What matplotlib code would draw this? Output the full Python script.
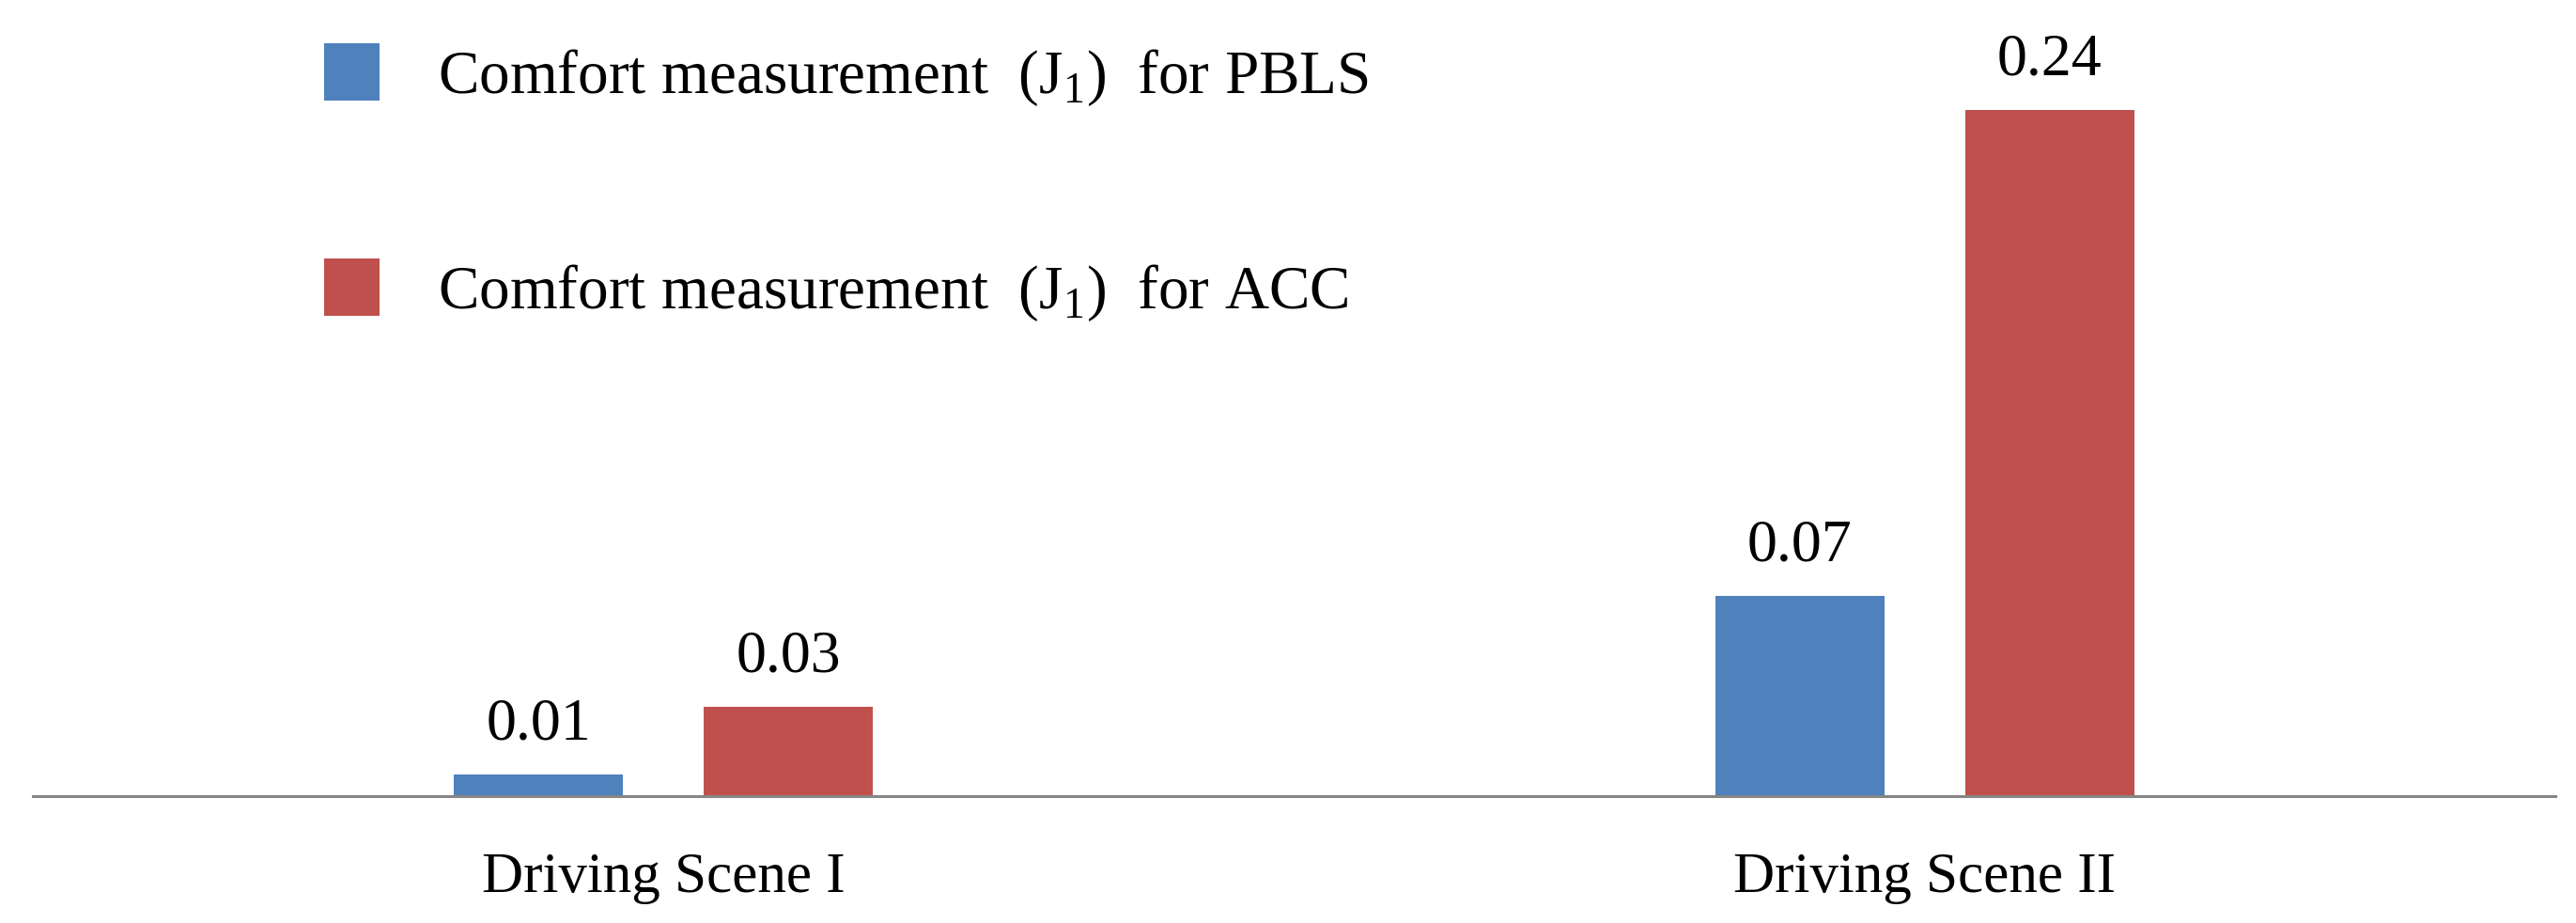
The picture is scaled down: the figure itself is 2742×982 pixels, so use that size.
import numpy as np
import matplotlib
matplotlib.use('Agg')
import matplotlib.pyplot as plt

# values (bar heights); labels show them rounded to 2 decimals
scenes = ['Driving Scene I', 'Driving Scene II']
pbls = [0.0076, 0.0700]
acc = [0.0312, 0.2400]
series_names = ['Comfort measurement  (J$_\\mathregular{1}$)  for PBLS',
                'Comfort measurement  (J$_\\mathregular{1}$)  for ACC']

plt.rcParams['font.family'] = 'Liberation Serif'
plt.rcParams['mathtext.fontset'] = 'custom'
plt.rcParams['mathtext.rm'] = 'Liberation Serif'

fig = plt.figure(figsize=(27.42, 9.82), dpi=100)
ax = fig.add_axes([0.0128, 0.1375, 0.9792, 0.8625])

x = np.arange(len(scenes))
w = 0.134
b1 = ax.bar(x - 0.099, pbls, w, color='#4F81BD', label=series_names[0])
b2 = ax.bar(x + 0.099, acc, w, color='#C0504D', label=series_names[1])

ax.bar_label(b1, fmt='%.2f', padding=17, fontsize=46)
ax.bar_label(b2, fmt='%.2f', padding=17, fontsize=46)

ax.set_xlim(-0.5, 1.5)
ax.set_ylim(0, 0.2786)
ax.set_xticks(x)
ax.set_xticklabels(scenes, fontsize=44)
ax.tick_params(axis='x', length=0, pad=43)
ax.set_yticks([])
for s in ['top', 'right', 'left']:
    ax.spines[s].set_visible(False)
ax.spines['bottom'].set_color('#868686')
ax.spines['bottom'].set_linewidth(2.2)

fig.legend(handles=[b1, b2], loc='upper left', bbox_to_anchor=(345 / 2742, 1 - 46 / 982),
           frameon=False, fontsize=47, handlelength=0.9, handleheight=1.06,
           handletextpad=0.95, labelspacing=2.46, borderpad=0, borderaxespad=0)

plt.savefig('out.png', dpi=100)
